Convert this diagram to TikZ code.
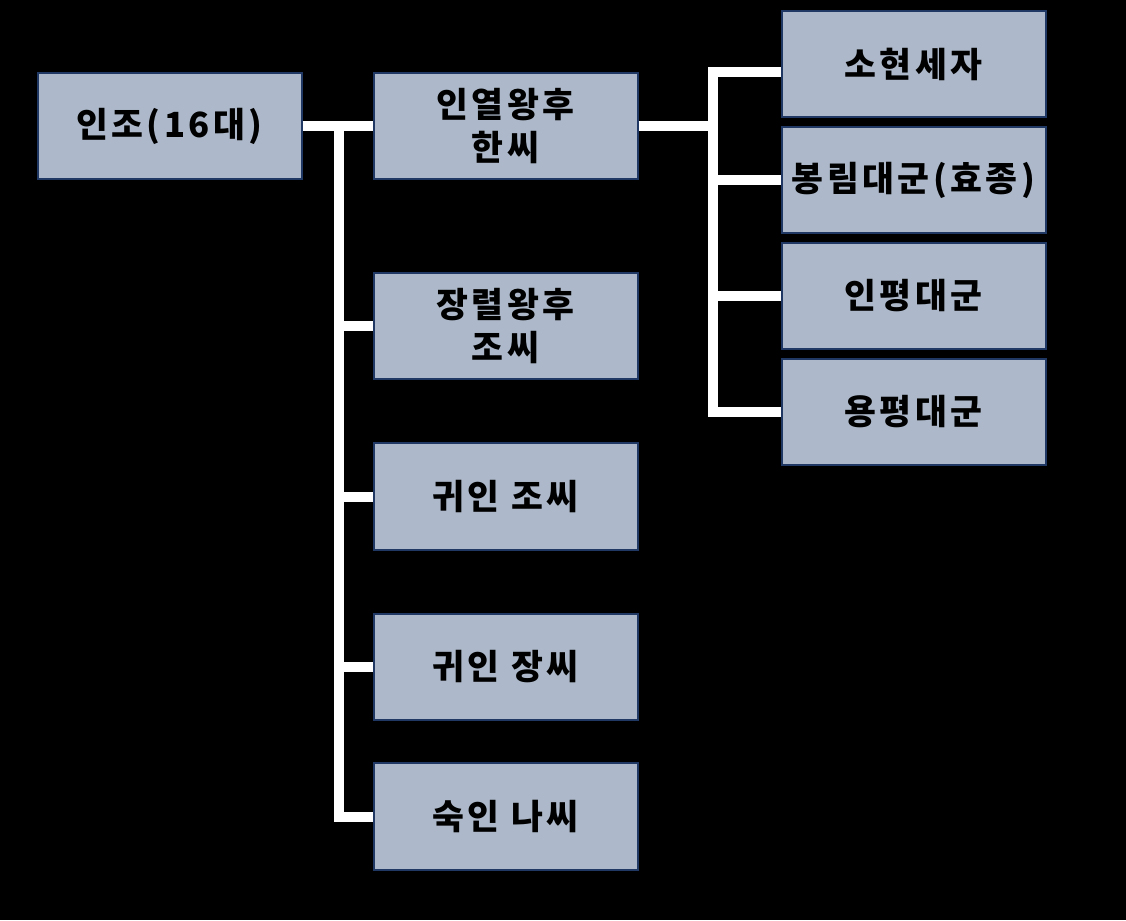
\documentclass[tikz,border=0pt]{standalone}
\usepackage{fontspec}
\usepackage{tikz}
\usetikzlibrary{positioning}
\newfontfamily\kr[LetterSpace=10]{Noto Sans CJK KR}
\definecolor{boxfill}{HTML}{ADB9CA}
\definecolor{boxline}{HTML}{1F3864}

\begin{document}
\begin{tikzpicture}[x=0.75pt,y=-0.75pt,
    every node/.style={draw=boxline, line width=1.5pt, fill=boxfill, rectangle,
      minimum width=198pt, minimum height=80pt, inner sep=0pt, align=center,
      font=\kr\bfseries\fontsize{26}{32}\selectfont},
    conn/.style={draw=white, line width=7.5pt}]
            \fill[black] (0,0) rectangle (1126,920);
            \useasboundingbox (0,0) rectangle (1126,920);
            % Nodes
            \node (injo) at (169.5,126) {인조(16대)};
            \node (han) at (505.5,126) {인열왕후\\한씨};
            \node (jo) at (505.5,326) {장렬왕후\\조씨};
            \node (gwijo) at (505.5,496.5) {귀인 조씨};
            \node (gwijang) at (505.5,667) {귀인 장씨};
            \node (na) at (505.5,816.5) {숙인 나씨};
            \node (sohyeon) at (913.5,64) {소현세자};
            \node (bongrim) at (913.5,180) {봉림대군(효종)};
            \node (inpyeong) at (913.5,296) {인평대군};
            \node (yongpyeong) at (913.5,412) {용평대군};

            % Lines
            \coordinate (lj) at (339,126);
            \coordinate (rj) at (713,126);
            \coordinate (rt) at (713,72);
            \draw[conn] (injo.east) -- (han.west);
            \draw[conn] (lj) |- (na.west);
            \draw[conn] (lj) |- (jo.west);
            \draw[conn] (lj) |- (gwijo.west);
            \draw[conn] (lj) |- (gwijang.west);
            \draw[conn] (han.east) -- (rj);
            \draw[conn] (sohyeon.west |- rt) -- (rt) |- (yongpyeong.west);
            \draw[conn] (rj) |- (bongrim.west);
            \draw[conn] (rj) |- (inpyeong.west);
          \end{tikzpicture}
\end{document}
